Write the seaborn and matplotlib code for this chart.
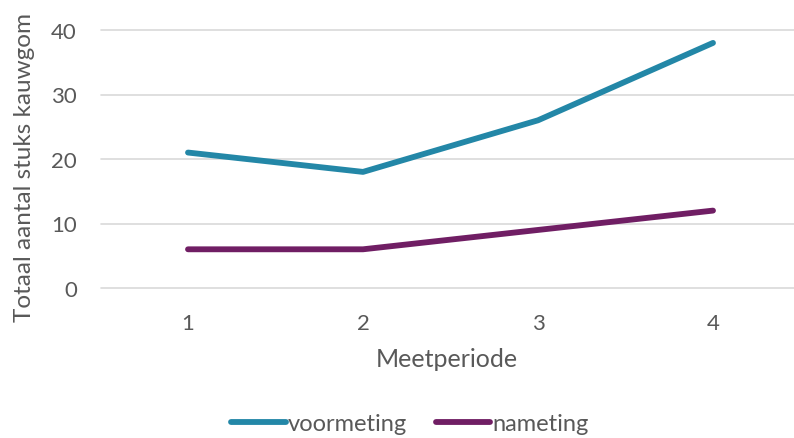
import matplotlib
matplotlib.use("Agg")
import matplotlib.pyplot as plt
import seaborn as sns
import pandas as pd

periods = [1, 2, 3, 4]
voormeting = [21, 18, 26, 38]
nameting = [6, 6, 9, 12]
series_names = ["voormeting", "nameting"]
colors = ["#2387A7", "#701E64"]

df = pd.DataFrame({
    "Meetperiode": periods * 2,
    "value": voormeting + nameting,
    "series": [series_names[0]] * 4 + [series_names[1]] * 4,
})

sns.set_theme(style="white")
plt.rcParams['font.family'] = ['Lato', 'DejaVu Sans']
txt = "#595959"

fig = plt.figure(figsize=(7.94, 4.39), dpi=100)
ax = fig.add_axes([100.5 / 794, 1 - 289 / 439, 1 - 100.5 / 794, (289 - 31) / 439])
sns.lineplot(data=df, x="Meetperiode", y="value", hue="series", palette=colors,
             linewidth=4.2, ax=ax, legend=False, solid_capstyle="round")
for l in ax.lines:
    l.set_clip_on(False)

ax.set_xlim(0.5, 0.5 + (794 - 100.5) / 175)
ax.set_ylim(0, 40)
ax.set_yticks([0, 10, 20, 30, 40])
ax.set_xticks(periods)
ax.grid(axis="y", color="#D9D9D9", linewidth=1.2)
for gl in ax.get_ygridlines():
    gl.set_clip_on(False)
ax.set_axisbelow(True)
for s in ax.spines.values():
    s.set_visible(False)
ax.tick_params(axis="both", length=0, labelsize=16, labelcolor=txt)
ax.tick_params(axis="y", pad=17)
ax.tick_params(axis="x", pad=18)
ax.set_xlabel("Meetperiode", fontsize=18, color=txt, labelpad=10)
ax.set_ylabel("Totaal aantal stuks kauwgom", fontsize=17.5, color=txt, labelpad=8)
ax.yaxis.set_label_coords(-0.095, 0.47)

from matplotlib.lines import Line2D
handles = [Line2D([0], [0], color=c, linewidth=4.2, solid_capstyle="round") for c in colors]
fig.legend(handles, series_names, loc="center", bbox_to_anchor=(410 / 794, 1 - 425 / 439),
           ncol=2, frameon=False, fontsize=17, labelcolor=txt, handlelength=2.3,
           handletextpad=0.1, columnspacing=1.2)

fig.savefig("out.png", dpi=100)
